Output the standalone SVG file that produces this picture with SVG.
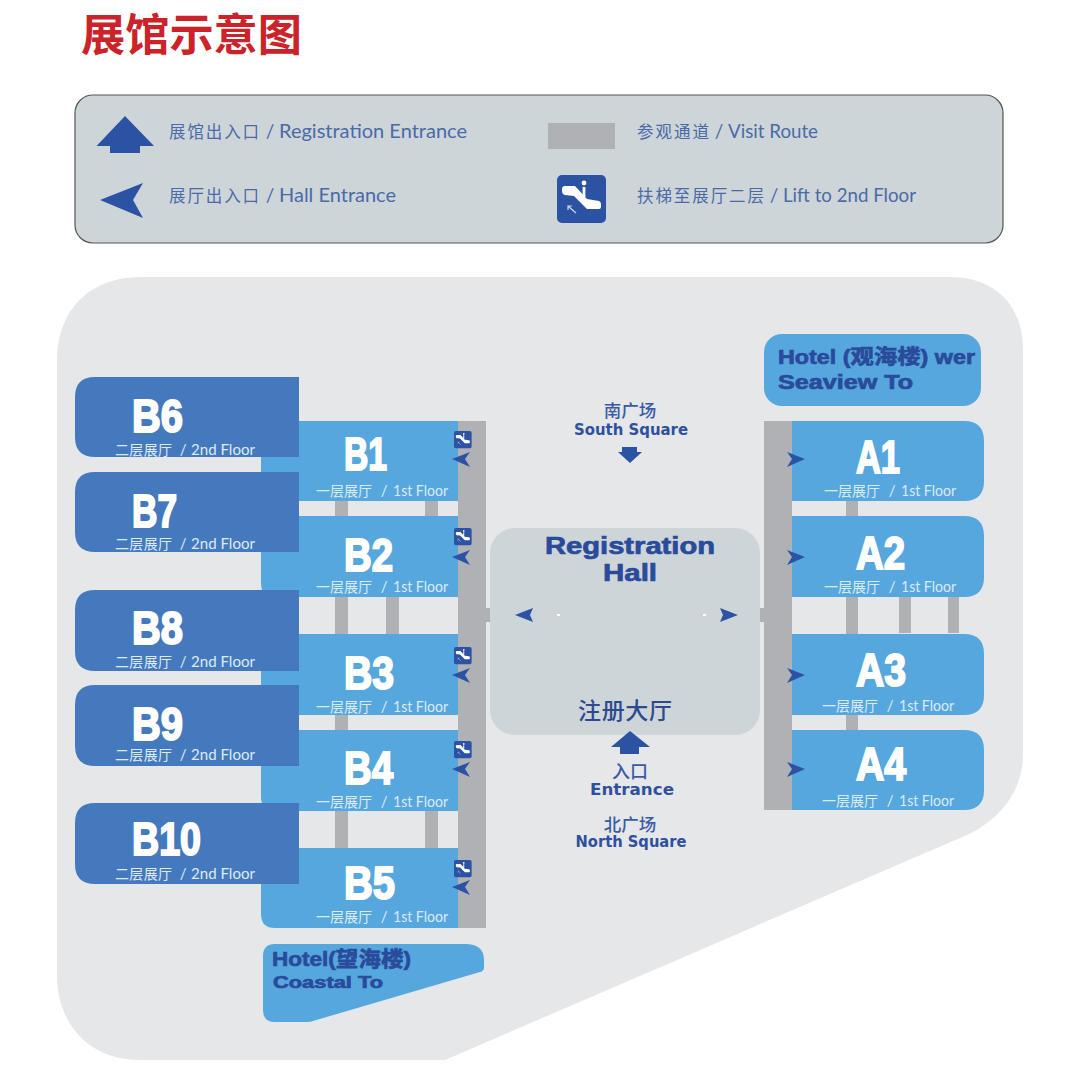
<svg xmlns="http://www.w3.org/2000/svg" width="1080" height="1090" viewBox="0 0 1080 1090">
<style>
text{font-family:"Lato","Noto Sans CJK SC",sans-serif}
.cjk{font-family:"Noto Sans CJK SC",sans-serif}
.lt{fill:#55a7de}.dk{fill:#4579bd}.gr{fill:#b0b1b5}.ar{fill:#2c52a4}
.leg{font-size:19px;fill:#4a6aa8}
.legc{font-size:16.5px}
.fl{font-size:15px;fill:#dcebf5}
.flc{font-size:14px}
.big{font-family:"Liberation Sans",sans-serif;font-weight:700;font-size:46px;fill:#fff;stroke:#fff;stroke-width:2}
.hd{font-family:"Liberation Sans","Noto Sans CJK SC",sans-serif;font-weight:700;fill:#2a4b9b;stroke:#2a4b9b;stroke-width:.7}
.sq{font-family:"DejaVu Sans","Noto Sans CJK SC",sans-serif;font-weight:700;fill:#2f509f;text-anchor:middle}
.sqc{font-family:"Noto Sans CJK SC",sans-serif;font-weight:500;fill:#3a5aa4;text-anchor:middle;font-size:17.5px}
</style>
<defs>
<g id="esc">
<rect x="0" y="0" width="49" height="48" rx="5" fill="#2c52a4"/>
<path d="M5 14Q5 11 8 11L18 11L30 24L42 26Q44 27 44 29L44 32Q44 34 42 34L30 34L17 21L8 20Q5 19 5 16Z" fill="#fff"/>
<circle cx="27" cy="8" r="2.400" fill="#fff"/>
<rect x="25.600" y="12" width="2.800" height="10" fill="#fff"/>
<path d="M19 38L11 31M11 35V31H15" fill="none" stroke="#cfd8ea" stroke-width="1.200"/>
</g>
<path id="al" d="M0 0L18 -7L13 0L18 8Z" fill="#2c52a4"/>
<path id="ar" d="M0 0L-18 -7L-13 0L-18 8Z" fill="#2c52a4"/>
</defs>

<rect width="1080" height="1090" fill="#fff"/>
<text class="cjk" id="title" x="81" y="51" font-size="44" font-weight="700" fill="#cc2229" textLength="221" lengthAdjust="spacingAndGlyphs">展馆示意图</text>

<g id="legend">
<rect x="75" y="95" width="928" height="148" rx="18" fill="#cdd5d8" stroke="#555" stroke-width="1.200"/>
<path class="ar" d="M125 116L154 146L140 146V153H110V146L96.500 146Z"/>
<path class="ar" d="M100 200L143 183L133 200L143 218Z"/>
<rect class="gr" x="548" y="123" width="67" height="26"/>
<use href="#esc" x="557" y="175"/>
<text class="leg" y="138"><tspan class="cjk legc" x="169" textLength="90">展馆出入口</tspan><tspan x="261"> / </tspan><tspan x="279" textLength="188" lengthAdjust="spacingAndGlyphs">Registration Entrance</tspan></text>
<text class="leg" y="202"><tspan class="cjk legc" x="169" textLength="90">展厅出入口</tspan><tspan x="261"> / </tspan><tspan x="279" textLength="117" lengthAdjust="spacingAndGlyphs">Hall Entrance</tspan></text>
<text class="leg" y="138"><tspan class="cjk legc" x="637" textLength="72">参观通道</tspan><tspan x="710"> / </tspan><tspan x="728" textLength="90" lengthAdjust="spacingAndGlyphs">Visit Route</tspan></text>
<text class="leg" y="202"><tspan class="cjk legc" x="637" textLength="127">扶梯至展厅二层</tspan><tspan x="765"> / </tspan><tspan x="783" textLength="133" lengthAdjust="spacingAndGlyphs">Lift to 2nd Floor</tspan></text>
</g>

<path id="site" d="M140 277H950C995 277 1023 305 1023 350V755C1023 790 1000 822 960 838L445 1060H140C90 1060 57 1025 57 975V360C57 310 90 277 140 277Z" fill="#e5e7e9"/>

<g id="connectors">
<rect class="gr" x="335" y="500" width="13" height="17"/><rect class="gr" x="425" y="500" width="13" height="17"/>
<rect class="gr" x="335" y="596" width="13" height="39"/><rect class="gr" x="386" y="596" width="13" height="39"/>
<rect class="gr" x="335" y="714" width="13" height="17"/>
<rect class="gr" x="335" y="810" width="13" height="39"/><rect class="gr" x="425" y="810" width="13" height="39"/>
<rect class="gr" x="846" y="500" width="12" height="17"/>
<rect class="gr" x="846" y="596" width="12" height="39"/><rect class="gr" x="899" y="596" width="12" height="37"/><rect class="gr" x="948" y="596" width="11" height="37"/>
<rect class="gr" x="846" y="714" width="12" height="17"/>
<rect class="gr" x="486" y="608" width="5" height="14"/><rect class="gr" x="759" y="608" width="5" height="14"/>
</g>

<g id="spine-left"><rect class="gr" x="458" y="421" width="28" height="507"/></g>
<g id="spine-right"><rect class="gr" x="764" y="421" width="28" height="389"/></g>

<g id="B1"><path class="lt" d="M261 421H458V501H261Z"/><text class="big" y="470" x="344" textLength="43" lengthAdjust="spacingAndGlyphs">B1</text><text class="fl" y="496"><tspan class="cjk flc" x="316" textLength="56">一层展厅</tspan><tspan x="377"> / </tspan><tspan x="393" textLength="55" lengthAdjust="spacingAndGlyphs">1st Floor</tspan></text><use href="#esc" transform="translate(454 431) scale(.36)"/><use href="#al" x="452" y="459"/></g>
<g id="B2"><path class="lt" d="M261 516H458V597H275Q261 597 261 583Z"/><text class="big" y="571" x="344" textLength="49" lengthAdjust="spacingAndGlyphs">B2</text><text class="fl" y="592"><tspan class="cjk flc" x="316" textLength="56">一层展厅</tspan><tspan x="377"> / </tspan><tspan x="393" textLength="55" lengthAdjust="spacingAndGlyphs">1st Floor</tspan></text><use href="#esc" transform="translate(454 528) scale(.36)"/><use href="#al" x="452" y="557"/></g>
<g id="B3"><path class="lt" d="M261 634H458V715H261Z"/><text class="big" y="689" x="344" textLength="50" lengthAdjust="spacingAndGlyphs">B3</text><text class="fl" y="712"><tspan class="cjk flc" x="316" textLength="56">一层展厅</tspan><tspan x="377"> / </tspan><tspan x="393" textLength="55" lengthAdjust="spacingAndGlyphs">1st Floor</tspan></text><use href="#esc" transform="translate(454 647) scale(.36)"/><use href="#al" x="452" y="675"/></g>
<g id="B4"><path class="lt" d="M261 730H458V811H275Q261 811 261 797Z"/><text class="big" y="784" x="344" textLength="49" lengthAdjust="spacingAndGlyphs">B4</text><text class="fl" y="807"><tspan class="cjk flc" x="316" textLength="56">一层展厅</tspan><tspan x="377"> / </tspan><tspan x="393" textLength="55" lengthAdjust="spacingAndGlyphs">1st Floor</tspan></text><use href="#esc" transform="translate(454 741) scale(.36)"/><use href="#al" x="452" y="769"/></g>
<g id="B5"><path class="lt" d="M261 848H458V928H275Q261 928 261 914Z"/><text class="big" y="899" x="344" textLength="51" lengthAdjust="spacingAndGlyphs">B5</text><text class="fl" y="922"><tspan class="cjk flc" x="316" textLength="56">一层展厅</tspan><tspan x="377"> / </tspan><tspan x="393" textLength="55" lengthAdjust="spacingAndGlyphs">1st Floor</tspan></text><use href="#esc" transform="translate(454 860) scale(.36)"/><use href="#al" x="452" y="887"/></g>

<g id="B6"><path class="dk" d="M95 377H299V457H95Q75 457 75 437V397Q75 377 95 377Z"/><text class="big" y="432" x="132" textLength="51" lengthAdjust="spacingAndGlyphs">B6</text><text class="fl" y="455"><tspan class="cjk flc" x="115" textLength="57">二层展厅</tspan><tspan x="176"> / </tspan><tspan x="191" textLength="64" lengthAdjust="spacingAndGlyphs">2nd Floor</tspan></text></g>
<g id="B7"><path class="dk" d="M95 472H299V552H95Q75 552 75 532V492Q75 472 95 472Z"/><text class="big" y="527" x="132" textLength="45" lengthAdjust="spacingAndGlyphs">B7</text><text class="fl" y="549"><tspan class="cjk flc" x="115" textLength="57">二层展厅</tspan><tspan x="176"> / </tspan><tspan x="191" textLength="64" lengthAdjust="spacingAndGlyphs">2nd Floor</tspan></text></g>
<g id="B8"><path class="dk" d="M95 590H299V671H95Q75 671 75 651V610Q75 590 95 590Z"/><text class="big" y="644" x="132" textLength="51" lengthAdjust="spacingAndGlyphs">B8</text><text class="fl" y="667"><tspan class="cjk flc" x="115" textLength="57">二层展厅</tspan><tspan x="176"> / </tspan><tspan x="191" textLength="64" lengthAdjust="spacingAndGlyphs">2nd Floor</tspan></text></g>
<g id="B9"><path class="dk" d="M95 685H299V766H95Q75 766 75 746V705Q75 685 95 685Z"/><text class="big" y="740" x="132" textLength="51" lengthAdjust="spacingAndGlyphs">B9</text><text class="fl" y="760"><tspan class="cjk flc" x="115" textLength="57">二层展厅</tspan><tspan x="176"> / </tspan><tspan x="191" textLength="64" lengthAdjust="spacingAndGlyphs">2nd Floor</tspan></text></g>
<g id="B10"><path class="dk" d="M95 803H299V884H95Q75 884 75 864V823Q75 803 95 803Z"/><text class="big" y="855" x="132" textLength="69" lengthAdjust="spacingAndGlyphs">B10</text><text class="fl" y="879"><tspan class="cjk flc" x="115" textLength="57">二层展厅</tspan><tspan x="176"> / </tspan><tspan x="191" textLength="64" lengthAdjust="spacingAndGlyphs">2nd Floor</tspan></text></g>

<g id="A1"><path class="lt" d="M792 421H964Q984 421 984 441V481Q984 501 964 501H792Z"/><text class="big" y="473" x="856" textLength="44" lengthAdjust="spacingAndGlyphs">A1</text><text class="fl" y="496"><tspan class="cjk flc" x="824" textLength="56">一层展厅</tspan><tspan x="885"> / </tspan><tspan x="901" textLength="55" lengthAdjust="spacingAndGlyphs">1st Floor</tspan></text><use href="#ar" x="805" y="459"/></g>
<g id="A2"><path class="lt" d="M792 516H964Q984 516 984 536V577Q984 597 964 597H792Z"/><text class="big" y="569" x="856" textLength="49" lengthAdjust="spacingAndGlyphs">A2</text><text class="fl" y="592"><tspan class="cjk flc" x="824" textLength="56">一层展厅</tspan><tspan x="885"> / </tspan><tspan x="901" textLength="55" lengthAdjust="spacingAndGlyphs">1st Floor</tspan></text><use href="#ar" x="805" y="557"/></g>
<g id="A3"><path class="lt" d="M792 634H964Q984 634 984 654V695Q984 715 964 715H792Z"/><text class="big" y="686" x="856" textLength="50" lengthAdjust="spacingAndGlyphs">A3</text><text class="fl" y="711"><tspan class="cjk flc" x="822" textLength="56">一层展厅</tspan><tspan x="883"> / </tspan><tspan x="899" textLength="55" lengthAdjust="spacingAndGlyphs">1st Floor</tspan></text><use href="#ar" x="805" y="675"/></g>
<g id="A4"><path class="lt" d="M792 730H964Q984 730 984 750V790Q984 810 964 810H792Z"/><text class="big" y="780" x="856" textLength="50" lengthAdjust="spacingAndGlyphs">A4</text><text class="fl" y="806"><tspan class="cjk flc" x="822" textLength="56">一层展厅</tspan><tspan x="883"> / </tspan><tspan x="899" textLength="55" lengthAdjust="spacingAndGlyphs">1st Floor</tspan></text><use href="#ar" x="805" y="769"/></g>

<g id="hotel-seaview"><rect class="lt" x="764" y="334" width="217" height="72" rx="18"/>
<text class="hd" font-size="20" y="364" x="778" textLength="197" lengthAdjust="spacingAndGlyphs">Hotel (观海楼) wer</text>
<text class="hd" font-size="20" y="389" x="778" textLength="135" lengthAdjust="spacingAndGlyphs">Seaview To</text></g>

<g id="hotel-coastal"><path class="lt" d="M275 944H465Q484 944 484 960V968Q484 971 480 972L313 1021Q311 1022 305 1022H275Q263 1022 263 1010V956Q263 944 275 944Z"/>
<text class="hd" font-size="21" y="966" x="272" textLength="139" lengthAdjust="spacingAndGlyphs">Hotel(望海楼)</text>
<text class="hd" font-size="17" y="988" x="273" textLength="110" lengthAdjust="spacingAndGlyphs">Coastal To</text></g>

<g id="registration-hall"><rect x="490" y="528" width="270" height="207" rx="25" fill="#cdd5d8"/>
<text class="hd" font-size="24" y="554" x="545" textLength="170" lengthAdjust="spacingAndGlyphs">Registration</text>
<text class="hd" font-size="24" y="581" x="603" textLength="54" lengthAdjust="spacingAndGlyphs">Hall</text>
<text class="cjk" font-size="23" font-weight="500" x="578" y="719" textLength="94" fill="#2c4a8e">注册大厅</text>
<path d="M515 615L533 608L530 615L533 622Z" class="ar"/><path d="M738 615L720 608L723 615L720 622Z" class="ar"/>
<rect x="557" y="614" width="3" height="2" fill="#fff"/><rect x="703" y="614" width="3" height="2" fill="#fff"/></g>

<g id="south-square">
<text class="sqc" x="630" y="417">南广场</text>
<text class="sq" font-size="15" x="631" y="435" textLength="114" lengthAdjust="spacingAndGlyphs">South Square</text>
<path class="ar" d="M622 447H637V452H642L630 463L618 452H622Z"/></g>

<g id="entrance">
<path class="ar" d="M630 731L650 747H639V754H620V747H611Z"/>
<text class="sqc" style="font-size:18px" x="630" y="778">入口</text>
<text class="sq" font-size="16" x="632" y="795" textLength="84" lengthAdjust="spacingAndGlyphs">Entrance</text></g>

<g id="north-square">
<text class="sqc" x="630" y="831">北广场</text>
<text class="sq" font-size="15" x="631" y="847" textLength="111" lengthAdjust="spacingAndGlyphs">North Square</text></g>
</svg>
